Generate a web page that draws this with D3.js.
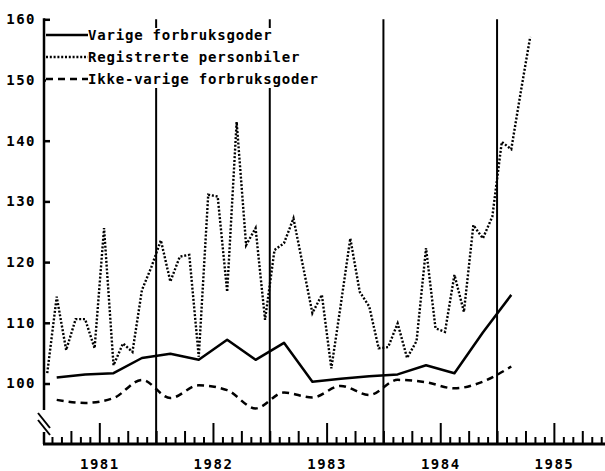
<html>
<head>
<script src="https://d3js.org/d3.v7.min.js"></script>
<style>
  body { margin: 0; background: #fff; }
  text { font-family: "DejaVu Sans Mono", monospace; font-weight: bold; fill: #000; }
</style>
</head>
<body>
<div id="chart"></div>
<script>
// index numbers (monthly for cars, quarterly for goods), from jan 1981
const years = ["1981", "1982", "1983", "1984", "1985"];
const yTicks = [100, 110, 120, 130, 140, 150, 160];
const legendLabels = ["Varige forbruksgoder", "Registrerte personbiler", "Ikke-varige forbruksgoder"];

const personbiler = [
  101.7, 114.3, 105.5, 110.6, 110.6, 105.8, 125.6, 103.0, 106.6, 105.2, 115.4, 119.2,
  123.6, 116.8, 120.9, 121.2, 104.4, 131.1, 130.8, 115.1, 143.1, 122.8, 125.6, 110.5,
  122.0, 123.1, 127.2, 119.4, 111.6, 114.6, 102.5, 113.0, 123.9, 115.1, 112.7, 105.8,
  106.0, 109.9, 104.2, 107.0, 122.3, 109.1, 108.5, 117.9, 111.8, 126.1, 123.9, 127.5,
  139.8, 138.6, 148.0, 157.1
];
const varige = [101.0, 101.5, 101.7, 104.2, 104.9, 103.9, 107.2, 103.9, 106.7,
  100.3, 100.8, 101.2, 101.5, 103.0, 101.7, 108.4, 114.6];
const ikkeVarige = [97.3, 96.8, 97.6, 100.6, 97.6, 99.7, 98.9, 95.9, 98.5,
  97.7, 99.6, 98.1, 100.6, 100.2, 99.2, 100.3, 102.8];

const W = 605, H = 471;
const svg = d3.select("#chart").append("svg").attr("width", W).attr("height", H);

const x = d3.scaleLinear().domain([0, 60]).range([42.5, 610.7]);
const y = d3.scaleLinear().domain([100, 160]).range([383.5, 19.3]);
const axisX = 44, baseY = 444;

// year separators
svg.append("g").selectAll("line")
  .data([12, 24, 36, 48])
  .join("line")
  .attr("x1", d => x(d)).attr("x2", d => x(d))
  .attr("y1", y(160)).attr("y2", baseY)
  .attr("stroke", "#000").attr("stroke-width", 2);

// y axis with break
const yAxis = svg.append("g")
  .attr("transform", `translate(${axisX},0)`)
  .call(d3.axisLeft(y).tickValues(yTicks).tickSize(-6).tickPadding(8));
yAxis.select(".domain").remove();
yAxis.selectAll(".tick line").attr("stroke", "#000").attr("stroke-width", 2.5);
yAxis.selectAll(".tick text").style("font-size", "14px").style("letter-spacing", "1.5px")
  .style("font-family", "'DejaVu Sans Mono', monospace").style("font-weight", "bold");
svg.append("line").attr("x1", axisX).attr("x2", axisX).attr("y1", y(160) - 1).attr("y2", 410)
  .attr("stroke", "#000").attr("stroke-width", 2.5);
svg.append("line").attr("x1", axisX).attr("x2", axisX).attr("y1", 432).attr("y2", baseY)
  .attr("stroke", "#000").attr("stroke-width", 2.5);
svg.append("line").attr("x1", 38).attr("y1", 413).attr("x2", 50).attr("y2", 428)
  .attr("stroke", "#000").attr("stroke-width", 2);
svg.append("line").attr("x1", 38).attr("y1", 420).attr("x2", 50).attr("y2", 435)
  .attr("stroke", "#000").attr("stroke-width", 2);

// x axis: monthly ticks, taller at quarters and mid-year
const xAxis = svg.append("g")
  .attr("transform", `translate(0,${baseY})`)
  .call(d3.axisTop(x).tickValues(d3.range(1, 60)).tickSize(7).tickFormat(""));
xAxis.select(".domain").remove();
xAxis.selectAll(".tick line")
  .attr("stroke", "#000").attr("stroke-width", 2)
  .attr("y2", d => d % 12 === 6 ? -21 : (d % 3 === 0 ? -13 : -7));
svg.append("line").attr("x1", axisX - 1).attr("x2", W).attr("y1", baseY).attr("y2", baseY)
  .attr("stroke", "#000").attr("stroke-width", 3);

// year labels
const yearAxis = svg.append("g")
  .attr("transform", `translate(0,${baseY + 12})`)
  .call(d3.axisBottom(x).tickValues([6, 18, 30, 42, 54]).tickSize(0)
    .tickFormat((d, i) => years[i]));
yearAxis.select(".domain").remove();
yearAxis.selectAll(".tick text").style("font-size", "14px").style("letter-spacing", "1.5px")
  .style("font-family", "'DejaVu Sans Mono', monospace").style("font-weight", "bold");

// legend
svg.append("rect").attr("x", axisX + 2).attr("y", 28).attr("width", 290).attr("height", 60)
  .attr("fill", "#fff");
const styles = [
  { dash: null, w: 2.5 },
  { dash: "2,1.8", w: 2.4 },
  { dash: "7,5", w: 2.5 }
];
const legend = svg.append("g").selectAll("g")
  .data(legendLabels)
  .join("g")
  .attr("transform", (d, i) => `translate(${axisX + 2},${35 + i * 22})`);
legend.append("line")
  .attr("x1", 0).attr("x2", 42).attr("y1", 0).attr("y2", 0)
  .attr("stroke", "#000")
  .attr("stroke-width", (d, i) => styles[i].w)
  .attr("stroke-dasharray", (d, i) => styles[i].dash);
legend.append("text")
  .attr("x", 42).attr("y", 5)
  .style("font-size", "14px").style("letter-spacing", "0.8px")
  .text(d => d);

// series
const monthLine = d3.line()
  .x((d, i) => x(i + 0.5))
  .y(d => y(d));
const quarterLine = d3.line()
  .x((d, i) => x(i * 3 + 1.5))
  .y(d => y(d));

svg.append("path").datum(personbiler)
  .attr("d", monthLine)
  .attr("fill", "none").attr("stroke", "#000")
  .attr("stroke-width", 2.4).attr("stroke-dasharray", "2,1.8");

svg.append("path").datum(ikkeVarige)
  .attr("d", quarterLine.curve(d3.curveMonotoneX))
  .attr("fill", "none").attr("stroke", "#000")
  .attr("stroke-width", 2.5).attr("stroke-dasharray", "7,5");

svg.append("path").datum(varige)
  .attr("d", d3.line().x((d, i) => x(i * 3 + 1.5)).y(d => y(d)))
  .attr("fill", "none").attr("stroke", "#000")
  .attr("stroke-width", 2.5).attr("stroke-linejoin", "round");
</script>
</body>
</html>
